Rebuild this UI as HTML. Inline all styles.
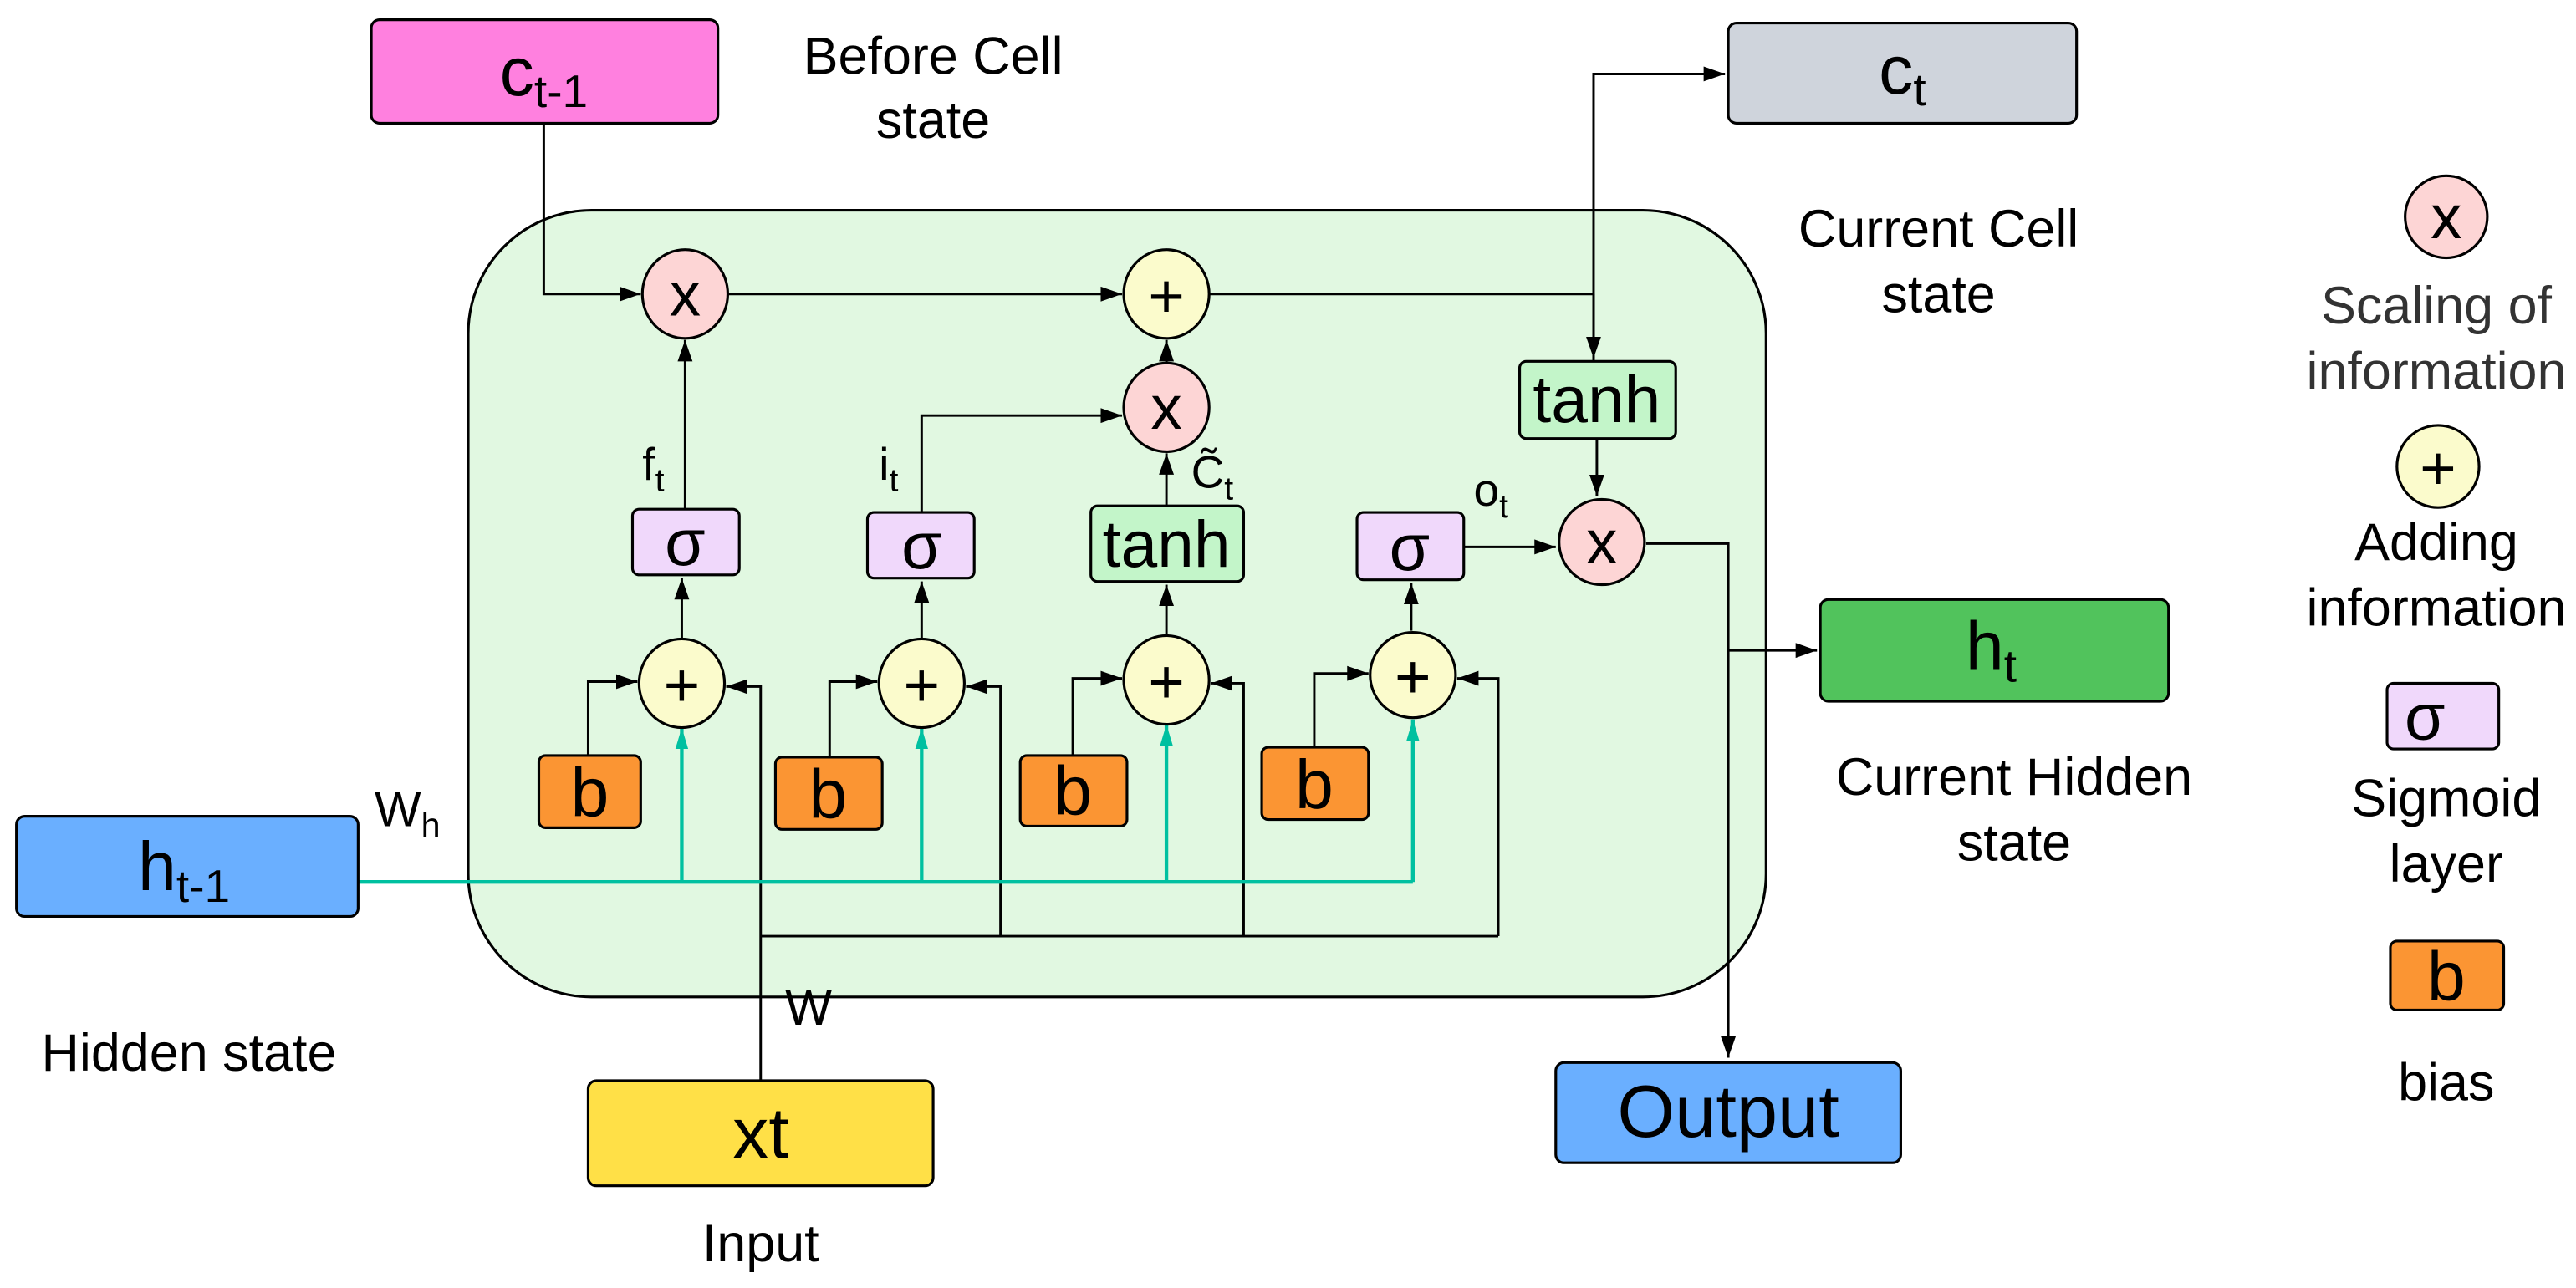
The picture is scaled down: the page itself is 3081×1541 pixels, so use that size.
<!DOCTYPE html>
<html><head><meta charset="utf-8"><style>
html,body{margin:0;padding:0;background:#fff;}
svg{display:block;}
text{font-family:"Liberation Sans",sans-serif;fill:#000;}
</style></head><body>
<svg width="3081" height="1541" viewBox="0 0 1568 784.2" xmlns="http://www.w3.org/2000/svg">
<defs>
<marker id="a" viewBox="0 0 10 10" refX="10" refY="5" markerWidth="13" markerHeight="13" markerUnits="userSpaceOnUse" orient="auto"><path d="M0,1.5 L10,5 L0,8.5 z" fill="#000"/></marker>
<marker id="t" viewBox="0 0 10 10" refX="10" refY="5" markerWidth="13" markerHeight="13" markerUnits="userSpaceOnUse" orient="auto"><path d="M0,2 L10,5 L0,8 z" fill="#00c0a0"/></marker>
</defs>
<rect x="285" y="128" width="790" height="479" rx="75" fill="#e1f8e1" stroke="#000" stroke-width="1.6"/>
<rect x="226" y="12" width="211" height="63" rx="5" fill="#ff80df" stroke="#000" stroke-width="1.6"/>
<text x="331" y="58" font-size="42" text-anchor="middle">c<tspan font-size="28" dy="7">t-1</tspan></text>
<text x="568" y="45" font-size="32" text-anchor="middle">Before Cell</text>
<text x="568" y="84" font-size="32" text-anchor="middle">state</text>
<rect x="1052" y="14" width="212" height="61" rx="5" fill="#cfd4dc" stroke="#000" stroke-width="1.6"/>
<text x="1158" y="57" font-size="42" text-anchor="middle">c<tspan font-size="28" dy="7">t</tspan></text>
<text x="1180" y="150" font-size="32" text-anchor="middle">Current Cell</text>
<text x="1180" y="190" font-size="32" text-anchor="middle">state</text>
<g fill="none" stroke="#000" stroke-width="1.5">
<path d="M331,75 V179 H390" marker-end="url(#a)"/>
<path d="M443,179 H683" marker-end="url(#a)"/>
<path d="M736,179 H970"/>
<path d="M970,220 V45 H1050" marker-end="url(#a)"/>
<path d="M970,179 V218" marker-end="url(#a)"/>
<path d="M972,267 V302" marker-end="url(#a)"/>
<path d="M417,310 V207" marker-end="url(#a)"/>
<path d="M561,312 V253 H683" marker-end="url(#a)"/>
<path d="M710,308 V276" marker-end="url(#a)"/>
<path d="M710,221 V207" marker-end="url(#a)"/>
<path d="M891,333 H947" marker-end="url(#a)"/>
<path d="M1002,331 H1052 V644" marker-end="url(#a)"/>
<path d="M1052,396 H1106" marker-end="url(#a)"/>
<path d="M415,389 V352" marker-end="url(#a)"/>
<path d="M561,389 V354" marker-end="url(#a)"/>
<path d="M710,387 V356" marker-end="url(#a)"/>
<path d="M859,384 V355" marker-end="url(#a)"/>
<path d="M358,460 V415 H388" marker-end="url(#a)"/>
<path d="M505,461 V415 H534" marker-end="url(#a)"/>
<path d="M653,460 V413 H683" marker-end="url(#a)"/>
<path d="M800,455 V410 H833" marker-end="url(#a)"/>
<path d="M463,658 V418 H442" marker-end="url(#a)"/>
<path d="M463,570 H912"/>
<path d="M609,570 V418 H588" marker-end="url(#a)"/>
<path d="M757,570 V416 H737" marker-end="url(#a)"/>
<path d="M912,570 V413 H887" marker-end="url(#a)"/>
</g>
<g fill="none" stroke="#00c0a0" stroke-width="2.2">
<path d="M218,537 H860"/>
<path d="M415,537 V443" marker-end="url(#t)"/>
<path d="M561,537 V443" marker-end="url(#t)"/>
<path d="M710,537 V441" marker-end="url(#t)"/>
<path d="M860,537 V438" marker-end="url(#t)"/>
</g>
<g stroke="#000" stroke-width="1.6">
<ellipse cx="417" cy="179" rx="26" ry="27" fill="#fdd5d5"/>
<ellipse cx="710" cy="179" rx="26" ry="27" fill="#fbfbcc"/>
<ellipse cx="710" cy="248" rx="26" ry="27" fill="#fdd5d5"/>
<circle cx="975" cy="330" r="26" fill="#fdd5d5"/>
<ellipse cx="415" cy="416" rx="26" ry="27" fill="#fbfbcc"/>
<ellipse cx="561" cy="416" rx="26" ry="27" fill="#fbfbcc"/>
<ellipse cx="710" cy="414" rx="26" ry="27" fill="#fbfbcc"/>
<circle cx="860" cy="411" r="26" fill="#fbfbcc"/>
</g>
<g font-size="38" text-anchor="middle">
<text x="417" y="192">x</text><text x="710" y="193">+</text><text x="710" y="261">x</text><text x="975" y="343">x</text>
<text x="415" y="430">+</text><text x="561" y="430">+</text><text x="710" y="428">+</text><text x="860" y="425">+</text>
</g>
<g stroke="#000" stroke-width="1.6">
<rect x="385" y="310" width="65" height="40" rx="4" fill="#f0d8fb"/>
<rect x="528" y="312" width="65" height="40" rx="4" fill="#f0d8fb"/>
<rect x="826" y="312" width="65" height="41" rx="4" fill="#f0d8fb"/>
<rect x="664" y="308" width="93" height="46" rx="4" fill="#c3f5c9"/>
<rect x="925" y="220" width="95" height="47" rx="4" fill="#c3f5c9"/>
</g>
<g font-size="40" text-anchor="middle">
<text x="417" y="344">σ</text><text x="561" y="346">σ</text><text x="858" y="347">σ</text>
<text x="710" y="345">tanh</text><text x="972" y="257">tanh</text>
</g>
<g stroke="#000" stroke-width="1.6" fill="#fb9533">
<rect x="328" y="460" width="62" height="44" rx="4"/>
<rect x="472" y="461" width="65" height="44" rx="4"/>
<rect x="621" y="460" width="65" height="43" rx="4"/>
<rect x="768" y="455" width="65" height="44" rx="4"/>
</g>
<g font-size="42" text-anchor="middle">
<text x="359" y="497">b</text><text x="504" y="498">b</text><text x="653" y="496">b</text><text x="800" y="492">b</text>
</g>
<text x="391" y="292" font-size="28">f<tspan font-size="20" dy="7">t</tspan></text>
<text x="535" y="292" font-size="28">i<tspan font-size="20" dy="7">t</tspan></text>
<text x="725" y="297" font-size="28">C̃<tspan font-size="20" dy="7">t</tspan></text>
<text x="897" y="308" font-size="28">o<tspan font-size="20" dy="7">t</tspan></text>
<text x="228" y="503" font-size="30">W<tspan font-size="21" dy="7">h</tspan></text>
<text x="478" y="624" font-size="30">W</text>
<rect x="10" y="497" width="208" height="61" rx="5" fill="#6aafff" stroke="#000" stroke-width="1.6"/>
<text x="112" y="542" font-size="42" text-anchor="middle">h<tspan font-size="28" dy="7">t-1</tspan></text>
<text x="115" y="652" font-size="32" text-anchor="middle">Hidden state</text>
<rect x="358" y="658" width="210" height="64" rx="5" fill="#ffe047" stroke="#000" stroke-width="1.6"/>
<text x="463" y="705" font-size="44" text-anchor="middle">xt</text>
<text x="463" y="768" font-size="32" text-anchor="middle">Input</text>
<rect x="947" y="647" width="210" height="61" rx="5" fill="#6aafff" stroke="#000" stroke-width="1.6"/>
<text x="1052" y="692" font-size="45" text-anchor="middle">Output</text>
<rect x="1108" y="365" width="212" height="62" rx="5" fill="#51c35c" stroke="#000" stroke-width="1.6"/>
<text x="1212" y="408" font-size="42" text-anchor="middle">h<tspan font-size="28" dy="7">t</tspan></text>
<text x="1226" y="484" font-size="32" text-anchor="middle">Current Hidden</text>
<text x="1226" y="524" font-size="32" text-anchor="middle">state</text>
<circle cx="1489" cy="132" r="25" fill="#fdd5d5" stroke="#000" stroke-width="1.6"/>
<text x="1489" y="145" font-size="38" text-anchor="middle">x</text>
<text x="1483" y="197" font-size="32" text-anchor="middle" style="fill:#333">Scaling of</text>
<text x="1483" y="237" font-size="32" text-anchor="middle" style="fill:#333">information</text>
<circle cx="1484" cy="284" r="25" fill="#fbfbcc" stroke="#000" stroke-width="1.6"/>
<text x="1484" y="298" font-size="38" text-anchor="middle">+</text>
<text x="1483" y="341" font-size="32" text-anchor="middle">Adding</text>
<text x="1483" y="381" font-size="32" text-anchor="middle">information</text>
<rect x="1453" y="416" width="68" height="40" rx="4" fill="#f0d8fb" stroke="#000" stroke-width="1.6"/>
<text x="1476" y="450" font-size="40" text-anchor="middle">σ</text>
<text x="1489" y="497" font-size="32" text-anchor="middle">Sigmoid</text>
<text x="1489" y="537" font-size="32" text-anchor="middle">layer</text>
<rect x="1455" y="573" width="69" height="42" rx="4" fill="#fb9533" stroke="#000" stroke-width="1.6"/>
<text x="1489" y="609" font-size="42" text-anchor="middle">b</text>
<text x="1489" y="670" font-size="32" text-anchor="middle">bias</text>
</svg>
</body></html>
